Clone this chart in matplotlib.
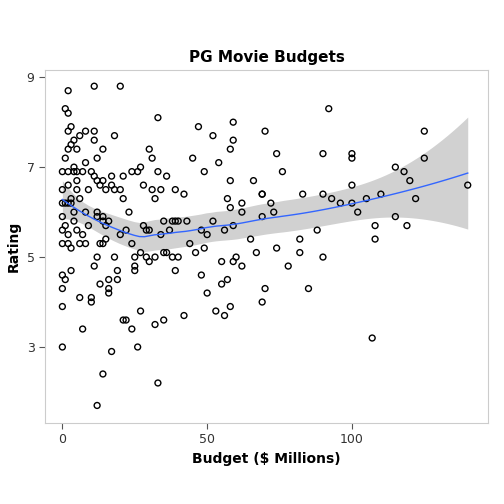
import numpy as np
import matplotlib
matplotlib.use("Agg")
import matplotlib.pyplot as plt

pts = [(0,6.9),(0,6.5),(0,6.2),(0,5.9),(0,5.6),(0,5.3),(0,4.6),(0,4.3),(0,3.9),(0,3.0),(1,8.3),(1,7.2),(1,6.2),(1,5.7),(1,4.5),(2,8.7),(2,8.2),(2,7.8),(2,7.4),(2,6.9),(2,6.6),(2,6.2),(2,5.5),(2,5.3),(3,7.9),(3,7.5),(3,6.3),(3,6.2),(3,5.2),(3,4.7),(4,7.6),(4,7.0),(4,6.9),(4,6.0),(4,5.8),(5,7.4),(5,6.9),(5,6.7),(5,6.5),(5,5.6),(6,7.7),(6,6.3),(6,5.3),(6,4.1),(7,6.9),(7,5.5),(7,3.4),(8,7.8),(8,7.1),(8,6.0),(8,5.3),(9,6.5),(9,5.7),(10,6.9),(10,4.1),(10,4.0),(11,8.8),(11,7.8),(11,7.6),(11,6.8),(11,4.8),(12,7.2),(12,6.7),(12,6.0),(12,5.9),(12,5.0),(12,1.7),(13,6.6),(13,5.3),(13,4.4),(14,7.4),(14,6.7),(14,5.9),(14,5.8),(14,5.3),(14,2.4),(15,6.5),(15,5.7),(15,5.4),(16,4.5),(16,4.3),(16,4.2),(16,5.8),(17,6.8),(17,6.6),(17,2.9),(18,7.7),(18,6.5),(18,5.0),(19,4.7),(19,4.5),(20,8.8),(20,6.5),(20,5.5),(21,6.8),(21,6.3),(21,3.6),(22,5.6),(22,3.6),(23,6.0),(24,6.9),(24,5.3),(24,3.4),(25,5.0),(25,4.8),(25,4.7),(26,6.9),(26,3.0),(27,7.0),(27,5.1),(27,3.8),(28,6.6),(28,5.7),(29,5.6),(29,5.0),(30,7.4),(30,5.6),(30,4.9),(31,7.2),(31,6.5),(32,6.3),(32,5.0),(32,3.5),(33,8.1),(33,6.9),(33,2.2),(34,6.5),(34,5.5),(35,5.8),(35,5.1),(35,3.6),(36,6.8),(36,5.1),(37,5.6),(38,5.8),(38,5.0),(39,6.5),(39,5.8),(39,4.7),(40,5.8),(40,5.0),(42,6.4),(42,3.7),(43,5.8),(44,5.3),(45,7.2),(46,5.1),(47,7.9),(48,5.6),(48,4.6),(49,6.9),(49,5.2),(50,5.5),(50,4.2),(52,7.7),(52,5.8),(53,3.8),(54,7.1),(55,4.9),(55,4.4),(56,5.6),(56,3.7),(57,6.3),(57,4.5),(58,6.7),(58,7.4),(58,6.1),(58,3.9),(59,8.0),(59,7.6),(59,5.7),(59,4.9),(60,5.0),(62,6.2),(62,6.0),(62,4.8),(65,5.4),(66,6.7),(67,5.1),(69,6.4),(69,6.4),(69,5.9),(69,4.0),(70,7.8),(70,4.3),(72,6.2),(73,6.0),(74,7.3),(74,5.2),(76,6.9),(78,4.8),(82,5.4),(82,5.1),(83,6.4),(85,4.3),(88,5.6),(90,6.4),(90,7.3),(90,5.0),(92,8.3),(93,6.3),(96,6.2),(100,7.3),(100,7.2),(100,6.6),(100,6.2),(102,6.0),(105,6.3),(107,3.2),(108,5.7),(108,5.4),(110,6.4),(115,5.9),(115,7.0),(118,6.9),(119,5.7),(120,6.7),(122,6.3),(125,7.8),(125,7.2),(140,6.6)]
budget = np.array([p[0] for p in pts], float)
rating = np.array([p[1] for p in pts], float)

def loess(x, y, grid, span=0.75):
    n = len(x); q = int(np.floor(n*span))
    fit = []; L = []
    for g in grid:
        d = np.abs(x-g); h = np.sort(d)[q-1]
        w = np.clip(1-(d/h)**3, 0, None)**3
        X = np.column_stack([np.ones(n), x-g, (x-g)**2])
        W = X*w[:, None]
        A = np.linalg.solve(X.T@W, W.T)
        l = A[0]
        L.append(l); fit.append(l@y)
    return np.array(fit), np.array(L)

_, Lx = loess(budget, rating, budget)
res = rating - Lx@rating
sigma = np.sqrt(np.sum(res**2)/(len(budget)-np.trace(Lx)))
grid = np.linspace(budget.min(), budget.max(), 80)
fit, Lg = loess(budget, rating, grid)
se = sigma*np.sqrt(np.sum(Lg**2, axis=1))
t = 1.85

fig = plt.figure(figsize=(5.04, 5.04), dpi=100)
ax = fig.add_axes([45/504, 81/504, 443/504, 353/504])
ax.fill_between(grid, fit-t*se, fit+t*se, color="#999999", alpha=0.45, lw=0)
ax.scatter(budget, rating, s=18, facecolors="none", edgecolors="black", linewidths=1)
ax.plot(grid, fit, color="#3366FF", lw=1)
ax.set_xlim(-6, 147); ax.set_ylim(1.31, 9.16)
ax.set_xticks([0, 50, 100]); ax.set_yticks([3, 5, 7, 9])
for s in ax.spines.values(): s.set_color("#CCCCCC")
ax.tick_params(colors="#333333", labelsize=9, length=4, color="#555555")
ax.set_title("PG Movie Budgets", fontsize=11, fontweight="bold")
ax.set_xlabel("Budget ($ Millions)", fontsize=10, fontweight="bold")
ax.set_ylabel("Rating", fontsize=10, fontweight="bold")
fig.savefig("out.png", dpi=100)
